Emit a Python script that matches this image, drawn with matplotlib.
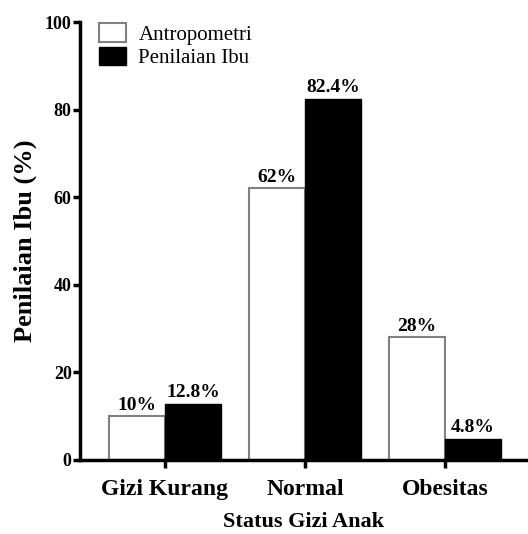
import numpy as np
import matplotlib
matplotlib.use("Agg")
import matplotlib.pyplot as plt

plt.rcParams['font.family'] = ['Liberation Serif', 'DejaVu Serif']

categories = ['Gizi Kurang', 'Normal', 'Obesitas']
antropometri = [10, 62, 28]
penilaian_ibu = [12.8, 82.4, 4.8]
label_antro = ['10%', '62%', '28%']
label_ibu = ['12.8%', '82.4%', '4.8%']

fig = plt.figure(figsize=(5.28, 5.34), dpi=100)
ax = fig.add_axes([0.1515, 0.1386, 0.8485, 0.8202])

x = np.arange(len(categories))
w = 0.4
ax.bar(x - w / 2, antropometri, w, color='white', edgecolor='#808080', linewidth=1.5, label='Antropometri')
ax.bar(x + w / 2, penilaian_ibu, w, color='black', edgecolor='black', linewidth=1.0, label='Penilaian Ibu')

for xi, v, t in zip(x - w / 2, antropometri, label_antro):
    ax.text(xi, v + 0.6, t, ha='center', va='bottom', fontsize=14, fontweight='bold')
for xi, v, t in zip(x + w / 2, penilaian_ibu, label_ibu):
    ax.text(xi, v + 0.6, t, ha='center', va='bottom', fontsize=14, fontweight='bold')

ax.set_xlim(-0.607, 2.593)
ax.set_ylim(0, 100)
ax.set_yticks([0, 20, 40, 60, 80, 100])
ax.set_xticks(x)
ax.set_xticklabels(categories, fontsize=17, fontweight='bold')
for lab in ax.get_yticklabels():
    lab.set_fontsize(13)
    lab.set_fontweight('bold')
ax.tick_params(axis='y', direction='out', length=5, width=2.5, pad=1)
ax.tick_params(axis='x', direction='out', length=6, width=2.5, pad=8)

ax.spines['top'].set_visible(False)
ax.spines['right'].set_visible(False)
ax.spines['left'].set_linewidth(2.5)
ax.spines['bottom'].set_linewidth(2.5)

ax.set_ylabel('Penilaian Ibu (%)', fontsize=19, fontweight='bold', labelpad=6)
ax.set_xlabel('Status Gizi Anak', fontsize=16, fontweight='bold', labelpad=8)

ax.legend(loc='upper left', bbox_to_anchor=(0.0, 1.04), frameon=False, fontsize=15,
          handlelength=1.3, handleheight=1.0, handletextpad=0.6, labelspacing=0.1)

fig.savefig('out.png', dpi=100)
